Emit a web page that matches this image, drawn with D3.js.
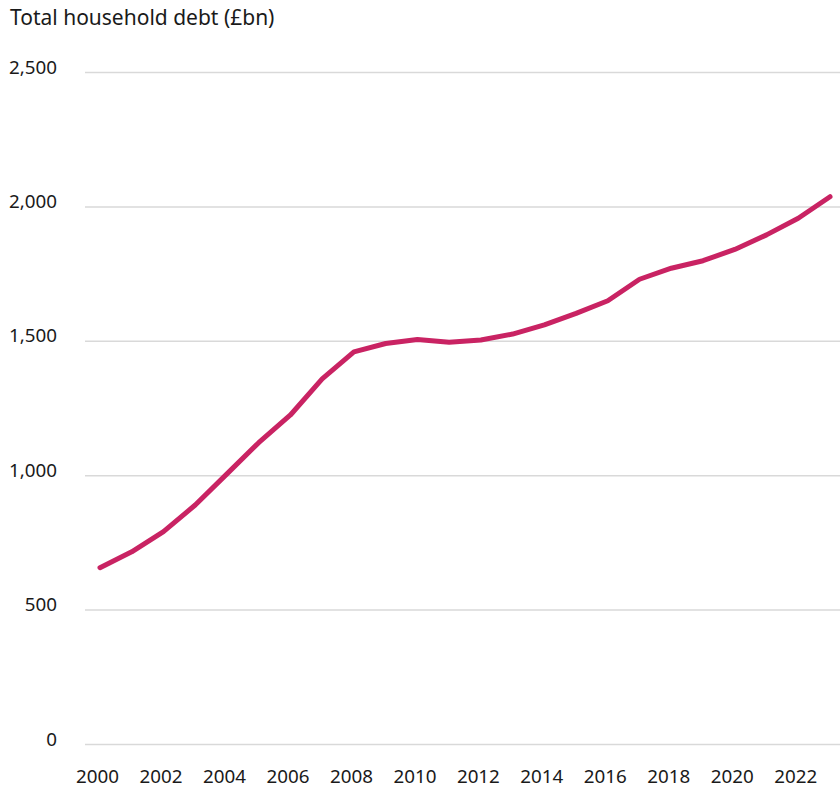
<!DOCTYPE html>
<html>
<head>
<meta charset="utf-8">
<script src="https://cdn.jsdelivr.net/npm/d3@7"></script>
<style>
  html, body { margin: 0; padding: 0; background: #fff; }
  svg { display: block; font-family: "Noto Sans", "Open Sans", sans-serif; }
</style>
</head>
<body>
<svg id="chart" width="840" height="788"></svg>
<script>
// UK total household debt, £bn, by year
const years = [2000, 2001, 2002, 2003, 2004, 2005, 2006, 2007, 2008, 2009, 2010, 2011,
               2012, 2013, 2014, 2015, 2016, 2017, 2018, 2019, 2020, 2021, 2022, 2023];
const debt  = [656, 715, 790, 889, 1005, 1121, 1224, 1358, 1459, 1490, 1505, 1495,
               1503, 1525, 1559, 1602, 1649, 1729, 1770, 1798, 1840, 1894, 1956, 2036];
const yTicks = [0, 500, 1000, 1500, 2000, 2500];
const xTicks = [2000, 2002, 2004, 2006, 2008, 2010, 2012, 2014, 2016, 2018, 2020, 2022];
const title = "Total household debt (£bn)";

const FONT = '"Noto Sans", "Open Sans", sans-serif';
const INK = "#1a1a1a";

const svg = d3.select("#chart");
const W = 840;

const x = d3.scaleLinear().domain([2000, 2023]).range([100, 830]);
const y = d3.scaleLinear().domain([0, 2500]).range([744, 72]);

// Title
svg.append("text")
  .attr("x", 10).attr("y", 25)
  .attr("font-family", FONT)
  .attr("font-size", 21)
  .attr("fill", INK)
  .text(title);

// Horizontal gridlines; value labels right-aligned at the left margin
const yAxis = d3.axisLeft(y)
  .tickValues(yTicks)
  .tickSize(-(W - 85))
  .tickFormat(d3.format(","));

const gy = svg.append("g")
  .attr("transform", "translate(85,0)")
  .call(yAxis)
  .attr("font-family", FONT);
gy.select(".domain").remove();
gy.selectAll(".tick line")
  .attr("stroke", "#d9d9d9")
  .attr("stroke-width", 1.5);
gy.selectAll(".tick text")
  .attr("x", -28)
  .attr("dy", 1)
  .attr("text-anchor", "end")
  .attr("font-size", 18.8)
  .attr("fill", INK);

// Year labels along the bottom
const xAxis = d3.axisBottom(x)
  .tickValues(xTicks)
  .tickSize(0)
  .tickFormat(d3.format("d"));

const gx = svg.append("g")
  .attr("transform", "translate(0,744)")
  .call(xAxis)
  .attr("font-family", FONT);
gx.select(".domain").remove();
gx.selectAll(".tick text")
  .attr("y", 39)
  .attr("dy", 0)
  .attr("dx", -3)
  .attr("font-size", 18.8)
  .attr("fill", INK);

// Debt line
const line = d3.line()
  .x((d, i) => x(years[i]))
  .y(d => y(d))
  .curve(d3.curveLinear);

svg.append("path")
  .datum(debt)
  .attr("d", line)
  .attr("fill", "none")
  .attr("stroke", "#c92363")
  .attr("stroke-width", 5)
  .attr("stroke-linecap", "round")
  .attr("stroke-linejoin", "round");
</script>
</body>
</html>
